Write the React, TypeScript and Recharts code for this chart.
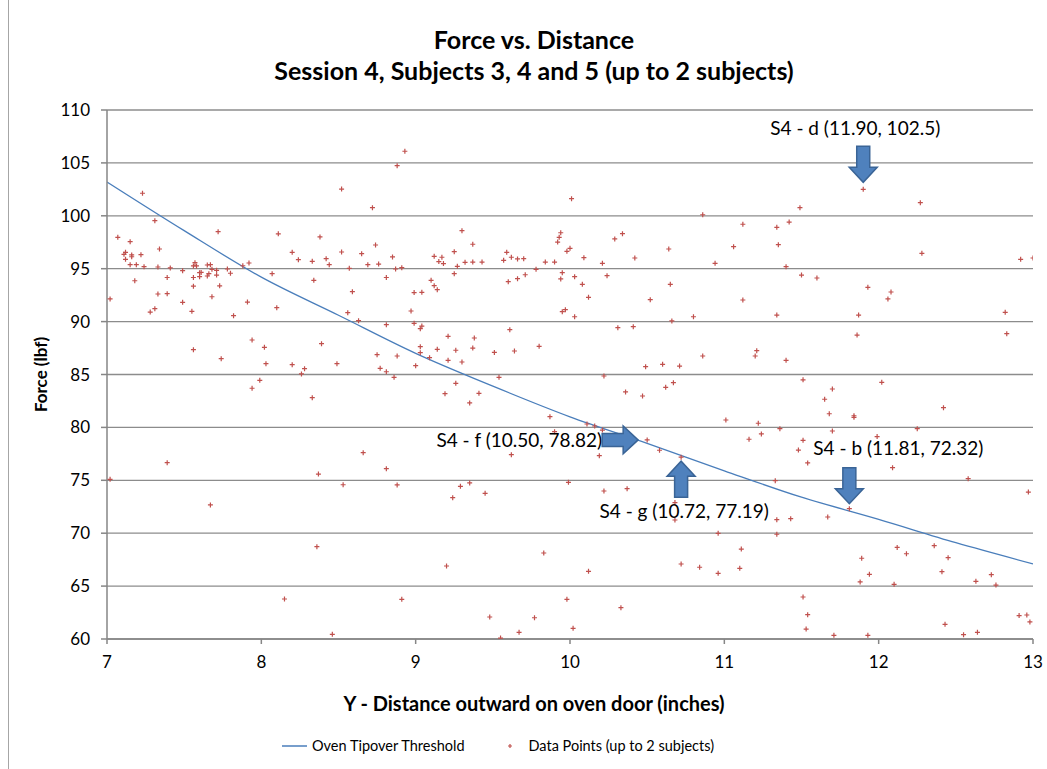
import {
  ComposedChart,
  XAxis,
  YAxis,
  CartesianGrid,
  Line,
  Scatter,
  Legend,
  ReferenceDot,
  Label,
} from 'recharts'

const FONT = 'Lato, "Open Sans", "DejaVu Sans", sans-serif'

const xTicks = [7, 8, 9, 10, 11, 12, 13]
const yTicks = [60, 65, 70, 75, 80, 85, 90, 95, 100, 105, 110]

// threshold curve every half inch
const thresholdDistance = [7, 7.5, 8, 8.5, 9, 9.5, 10, 10.5, 11, 11.5, 12, 12.5, 13]
const thresholdForce = [103.2, 98.6, 94.2, 90.6, 87.0, 83.9, 81.0, 78.5, 75.9, 73.4, 71.3, 69.1, 67.1]

// [distance (in), force (lbf)]
const dataPoints: [number, number][] = [
  [7.23, 102.13], [7.31, 99.54], [7.72, 98.5], [8.11, 98.3], [8.38, 98.0], [7.07, 97.97], [7.15, 97.55],
  [7.34, 96.86], [8.2, 96.55], [7.11, 96.36], [7.12, 96.55], [7.16, 96.3], [7.16, 96.13], [7.22, 96.33],
  [7.12, 95.89], [8.24, 95.85], [8.42, 95.95], [8.33, 95.7], [8.44, 95.38], [7.15, 95.38], [7.19, 95.38],
  [7.24, 95.19], [7.33, 95.16], [7.41, 95.07], [7.49, 94.81], [7.57, 95.57], [7.56, 95.26], [7.58, 95.26],
  [7.65, 95.35], [7.67, 95.38], [7.6, 94.62], [7.61, 94.65], [7.66, 94.53], [7.65, 94.31], [7.6, 94.25],
  [7.68, 94.94], [7.71, 94.85], [7.71, 94.4], [7.78, 94.97], [7.8, 94.57], [7.56, 94.17], [7.56, 93.35],
  [7.73, 93.38], [7.39, 94.17], [7.18, 93.86], [7.33, 92.61], [7.39, 92.64], [7.02, 92.14], [7.49, 91.82],
  [7.68, 92.35], [7.55, 90.97], [7.31, 91.22], [7.28, 90.9], [7.82, 90.56], [7.91, 91.85], [7.88, 95.28],
  [7.92, 95.54], [8.07, 94.53], [8.1, 91.32], [8.34, 93.9], [7.94, 88.26], [8.02, 87.57], [8.39, 87.91],
  [7.56, 87.35], [7.74, 86.5], [8.03, 86.02], [8.2, 85.93], [8.28, 85.55], [8.26, 85.05], [8.49, 86.02],
  [7.99, 84.45], [7.94, 83.7], [8.33, 82.81], [7.39, 76.67], [7.02, 75.09], [8.37, 75.59], [7.67, 72.67],
  [8.36, 68.73], [8.15, 63.78], [8.46, 60.44],
  [8.93, 106.1], [8.88, 104.74], [8.52, 102.53], [8.72, 100.77], [9.3, 98.59], [9.94, 98.4], [9.93, 97.97],
  [9.92, 97.52], [9.37, 97.31], [8.74, 97.24], [8.52, 96.58], [8.65, 96.42], [8.85, 96.11], [9.12, 96.17],
  [9.17, 96.08], [9.25, 96.61], [9.59, 96.55], [9.62, 96.08], [9.66, 95.92], [9.7, 95.95], [9.98, 96.64],
  [9.15, 95.67], [9.18, 95.48], [8.69, 95.38], [8.76, 95.44], [9.32, 95.6], [9.37, 95.63], [9.43, 95.63],
  [9.27, 95.22], [9.57, 95.79], [9.84, 95.63], [9.9, 95.63], [8.57, 95.04], [8.87, 94.97], [8.91, 95.1],
  [9.25, 94.53], [9.71, 94.43], [9.78, 94.94], [9.95, 94.62], [8.81, 94.17], [9.6, 93.77], [9.66, 94.06],
  [9.94, 94.03], [9.1, 93.9], [9.12, 93.4], [9.14, 93.02], [8.59, 92.83], [8.99, 92.74], [9.04, 92.77],
  [8.97, 91.0], [8.56, 90.84], [8.63, 90.09], [8.81, 89.71], [8.99, 89.84], [9.04, 89.58], [9.03, 89.33],
  [9.95, 90.94], [9.97, 91.13], [9.61, 89.24], [9.21, 88.61], [9.38, 88.45], [9.03, 87.63], [9.03, 87.06],
  [9.09, 86.59], [9.14, 87.38], [9.26, 87.29], [9.37, 87.5], [9.51, 87.09], [9.64, 87.22], [9.8, 87.66],
  [8.75, 86.87], [8.88, 86.75], [9.21, 86.34], [9.3, 86.18], [9.0, 85.83], [8.77, 85.58], [8.81, 85.26],
  [8.86, 84.73], [9.54, 84.73],
  [9.26, 84.17], [9.19, 83.19], [9.41, 83.22], [9.35, 82.31], [9.87, 81.01], [8.66, 77.61], [8.81, 76.1],
  [9.62, 77.42], [9.9, 79.6], [8.53, 74.58], [8.88, 74.56], [9.29, 74.43], [9.35, 74.75], [9.24, 73.36],
  [9.45, 73.77], [9.99, 74.81], [9.83, 68.13], [9.2, 66.9], [8.91, 63.75], [9.98, 63.75], [9.48, 62.08],
  [9.77, 62.01], [9.67, 60.63], [9.55, 60.09],
  [10.01, 101.62], [10.86, 100.1], [11.49, 100.77], [11.12, 99.2], [11.34, 98.91], [11.42, 99.41],
  [10.29, 97.81], [10.34, 98.31], [10.0, 96.93], [10.09, 96.04], [10.21, 95.51], [10.42, 96.01],
  [10.64, 96.86], [11.06, 97.08], [11.35, 97.27], [10.94, 95.51], [11.4, 95.19], [10.03, 94.25],
  [10.24, 94.34], [10.08, 93.52], [10.65, 93.52], [10.12, 92.29], [10.52, 92.07], [11.12, 92.04],
  [10.03, 90.46], [10.66, 90.06], [10.8, 90.46], [11.34, 90.62], [10.31, 89.43], [10.41, 89.52],
  [11.21, 87.25], [11.2, 86.75], [10.86, 86.75], [11.4, 86.34], [10.49, 85.74], [10.6, 85.96],
  [10.71, 85.8], [10.22, 84.86],
  [10.36, 83.35], [10.47, 82.97], [10.62, 83.79], [10.67, 84.23], [11.01, 80.7], [11.22, 80.39],
  [11.24, 79.38], [11.36, 79.88], [11.16, 78.88], [11.48, 77.86], [10.11, 80.32], [10.16, 80.13],
  [10.21, 79.75], [10.19, 77.33], [10.5, 78.82], [10.58, 77.84], [10.72, 77.19], [10.22, 73.99],
  [10.37, 74.21], [10.68, 72.89], [10.68, 71.25], [11.33, 74.96], [11.34, 71.28], [11.43, 71.37],
  [11.34, 69.9], [10.96, 69.99], [11.11, 68.5], [10.12, 66.4], [10.72, 67.09], [10.84, 66.78],
  [10.96, 66.21], [11.1, 66.68], [10.33, 62.96], [10.02, 61.01],
  [11.9, 102.5], [12.27, 101.24], [12.28, 96.45], [12.92, 95.89], [13.0, 96.01], [11.5, 94.4],
  [11.6, 94.12], [11.93, 93.24], [12.08, 92.8], [12.06, 92.14], [11.87, 90.62], [12.82, 90.88],
  [11.86, 88.73], [12.83, 88.86], [11.51, 84.5],
  [11.7, 83.63], [12.02, 84.26], [11.65, 82.66], [12.42, 81.86], [11.68, 81.29], [11.84, 80.95],
  [11.84, 81.1], [11.7, 79.66], [12.25, 79.88], [11.51, 78.78], [11.99, 79.13], [11.54, 76.64],
  [12.09, 76.19], [12.58, 75.15], [12.97, 73.89], [11.67, 71.53], [11.81, 72.32], [12.12, 68.66],
  [12.18, 68.06], [12.36, 68.82], [12.45, 67.69], [11.89, 67.63], [11.94, 66.11], [11.88, 65.39],
  [12.1, 65.17], [12.41, 66.36], [12.63, 65.45], [12.73, 66.08], [12.76, 65.1], [11.51, 63.97],
  [11.54, 62.3], [11.53, 60.94], [11.71, 60.35], [11.93, 60.35], [12.43, 61.39], [12.55, 60.41],
  [12.64, 60.63], [12.91, 62.21], [12.96, 62.27], [12.98, 61.61],
]

const callouts = [
  { id: 'd', label: 'S4 - d (11.90, 102.5)', x: 11.9, y: 102.5 },
  { id: 'f', label: 'S4 - f (10.50, 78.82)', x: 10.5, y: 78.82 },
  { id: 'g', label: 'S4 - g (10.72, 77.19)', x: 10.72, y: 77.19 },
  { id: 'b', label: 'S4 - b (11.81, 72.32)', x: 11.81, y: 72.32 },
]

// where each arrow sits relative to its point and where its text goes
const calloutLayout: Record<string, { dir: 'down' | 'up' | 'right'; gap: number; tx: number; ty: number; anchor: string }> = {
  d: { dir: 'down', gap: 7, tx: -8, ty: -62, anchor: 'middle' },
  f: { dir: 'right', gap: 9, tx: -45, ty: 0, anchor: 'end' },
  g: { dir: 'up', gap: 4, tx: 3, ty: 53, anchor: 'middle' },
  b: { dir: 'down', gap: 5, tx: 49, ty: -61, anchor: 'middle' },
}

const curveData = thresholdDistance.map((x, i) => ({ x, y: thresholdForce[i] }))
const scatterData = dataPoints.map(([x, y]) => ({ x, y }))

const RED = '#C0504D'
const BLUE = '#4A7EBB'
const AXIS = '#868686'

// block arrow pointing down with its tip at 0,0
const ARROW_PATH = 'M-6.5,-36 L6.5,-36 L6.5,-15 L14,-15 L0,0 L-14,-15 L-6.5,-15 Z'

function PlusMark(props: any) {
  const { cx, cy } = props
  if (cx == null || cy == null) return null
  return (
    <path
      d={`M${cx - 2.5},${cy}h5M${cx},${cy - 2.5}v5`}
      stroke={RED}
      strokeWidth={1.2}
      fill="none"
    />
  )
}

function makeCallout(id: string, label: string) {
  const lay = calloutLayout[id]
  return (props: any) => {
    const { cx, cy } = props
    let tipX = cx
    let tipY = cy
    let rot = 0
    if (lay.dir === 'down') tipY = cy - lay.gap
    if (lay.dir === 'up') {
      tipY = cy + lay.gap
      rot = 180
    }
    if (lay.dir === 'right') {
      tipX = cx - lay.gap
      rot = -90
    }
    return (
      <g>
        <path
          d={ARROW_PATH}
          transform={`translate(${tipX},${tipY}) rotate(${rot})`}
          fill="#4F81BD"
          stroke="#3A6496"
          strokeWidth={1.5}
        />
        <text
          x={cx + lay.tx}
          y={cy + lay.ty}
          textAnchor={lay.anchor as any}
          dominantBaseline="central"
          fontFamily={FONT}
          fontSize={19}
          fill="#000"
        >
          {label}
        </text>
      </g>
    )
  }
}

function LegendBox() {
  return (
    <div style={{ display: 'flex', alignItems: 'center', fontFamily: FONT, fontSize: 14.5, color: '#000' }}>
      <svg width={26} height={10} style={{ marginRight: 4 }}>
        <line x1={0} y1={5} x2={25} y2={5} stroke={BLUE} strokeWidth={1.5} />
      </svg>
      <span>Oven Tipover Threshold</span>
      <svg width={10} height={10} style={{ marginLeft: 40, marginRight: 14 }}>
        <path d="M3,5h4M5,3v4" stroke={RED} strokeWidth={1.2} />
      </svg>
      <span>Data Points (up to 2 subjects)</span>
    </div>
  )
}

export default function App() {
  return (
    <div style={{ position: 'relative', width: 1047, height: 769, background: '#fff', overflow: 'hidden' }}>
      <style>{'body{margin:0}'}</style>
      <div style={{ position: 'absolute', left: 8, top: 0, height: 769, borderLeft: '1px solid #a6a6a6' }} />
      <div
        style={{
          position: 'absolute',
          left: 134,
          top: 24,
          width: 800,
          textAlign: 'center',
          fontFamily: FONT,
          fontWeight: 700,
          fontSize: 25,
          lineHeight: '31px',
          color: '#000',
        }}
      >
        <div>Force vs. Distance</div>
        <div>Session 4, Subjects 3, 4 and 5 (up to 2 subjects)</div>
      </div>
      <ComposedChart width={1047} height={769} margin={{ top: 110, right: 14, bottom: 100, left: 47 }}>
        <CartesianGrid vertical={false} stroke="#8c8c8c" strokeWidth={1.3} />
        <XAxis
          type="number"
          dataKey="x"
          domain={[7, 13]}
          ticks={xTicks}
          interval={0}
          allowDataOverflow
          height={30}
          stroke={AXIS}
          strokeWidth={1.5}
          tickSize={5}
          tickMargin={12}
          tick={{ fill: '#000', fontSize: 17, fontFamily: FONT }}
        >
          <Label
            content={(p: any) => (
              <text
                x={534}
                y={p.viewBox.y + 64}
                textAnchor="middle"
                dominantBaseline="central"
                fontFamily={FONT}
                fontWeight={700}
                fontSize={20}
                fill="#000"
              >
                Y - Distance outward on oven door (inches)
              </text>
            )}
          />
        </XAxis>
        <YAxis
          type="number"
          domain={[60, 110]}
          ticks={yTicks}
          interval={0}
          allowDataOverflow
          width={60}
          stroke={AXIS}
          strokeWidth={1.5}
          tickSize={6}
          tickMargin={11}
          tick={{ fill: '#000', fontSize: 17, fontFamily: FONT }}
        >
          <Label
            content={(p: any) => {
              const cy = p.viewBox.y + p.viewBox.height / 2
              return (
                <text
                  x={40}
                  y={cy}
                  transform={`rotate(-90, 40, ${cy})`}
                  textAnchor="middle"
                  dominantBaseline="central"
                  fontFamily={FONT}
                  fontWeight={700}
                  fontSize={17}
                  fill="#000"
                >
                  Force (lbf)
                </text>
              )
            }}
          />
        </YAxis>
        <Legend
          layout="horizontal"
          verticalAlign="middle"
          align="center"
          wrapperStyle={{ top: 737, left: 282, width: 'auto' }}
          content={() => <LegendBox />}
        />
        <Line
          data={curveData}
          dataKey="y"
          type="monotone"
          name="Oven Tipover Threshold"
          stroke={BLUE}
          strokeWidth={1.3}
          dot={false}
          activeDot={false}
          isAnimationActive={false}
        />
        <Scatter
          data={scatterData}
          dataKey="y"
          name="Data Points (up to 2 subjects)"
          fill={RED}
          shape={PlusMark}
          isAnimationActive={false}
        />
        {callouts.map((c) => (
          <ReferenceDot key={c.id} x={c.x} y={c.y} r={0} ifOverflow="visible" shape={makeCallout(c.id, c.label)} />
        ))}
      </ComposedChart>
    </div>
  )
}
